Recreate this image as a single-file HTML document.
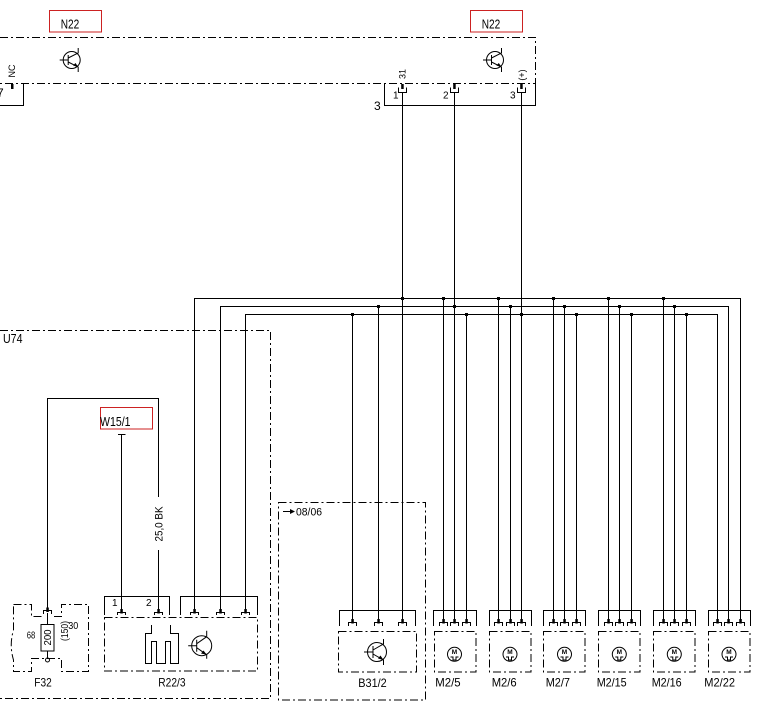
<!DOCTYPE html>
<html><head><meta charset="utf-8"><style>
html,body{margin:0;padding:0;background:#fff;}
svg{display:block;}
text{font-family:"Liberation Sans",Arial,sans-serif;fill:#000;}
</style></head><body>
<svg width="767" height="719" viewBox="0 0 767 719" xmlns="http://www.w3.org/2000/svg">
<rect x="0" y="0" width="767" height="719" fill="#fff"/>

<!-- red label boxes -->
<g fill="none" stroke="#cc2222" stroke-width="1">
  <rect x="49.5" y="10.5" width="52" height="21.5"/>
  <rect x="470.5" y="10.5" width="52" height="21.5"/>
  <rect x="100.5" y="407.5" width="52" height="21.5"/>
</g>

<!-- dash-dot outlines -->
<g fill="none" stroke="#000" stroke-width="1" stroke-dasharray="8 3 2 3">
  <path d="M0,37.5 H535.5 V83.5 H0"/>
  <path d="M0,330.5 H270.5 V698.5 H0"/>
  <rect x="278.5" y="502.5" width="147" height="197.5"/>
  <rect x="104.5" y="617.5" width="153" height="53.5"/>
  <rect x="338.5" y="631.5" width="78" height="40.5"/>
  <rect x="434.5" y="631.5" width="41.5" height="40.5"/>
  <rect x="489.5" y="631.5" width="41.5" height="40.5"/>
  <rect x="543.5" y="631.5" width="41.5" height="40.5"/>
  <rect x="598.5" y="631.5" width="41.5" height="40.5"/>
  <rect x="653.5" y="631.5" width="41.5" height="40.5"/>
  <rect x="708.5" y="631.5" width="41.5" height="40.5"/>
  <!-- F32 outline -->
  <path d="M13.5,604.5 H31.5 V616.5 H41.5 M54,616.5 H61.5 V604.5 H88.5 V671.5 H61.5 V658.5 H31.5 V671.5 H13.5 V660 Q9,645 13.5,630 V604.5"/>
</g>

<!-- solid wires -->
<g fill="none" stroke="#000" stroke-width="1">
  <!-- top housings -->
  <path d="M23.5,84 V105.5 H0"/>
  <path d="M384.5,84 V105.5 H535.5 V84"/>
  <!-- N22 verticals -->
  <path d="M402.5,92 V622"/>
  <path d="M454.5,92 V622"/>
  <path d="M521.5,92 V622"/>
  <!-- bus lines -->
  <path d="M194.5,612 V298.5 H740.5 V622"/>
  <path d="M220.5,612 V306.5 H728.5 V622"/>
  <path d="M245.5,612 V314.5 H717.5 V622"/>
  <!-- L1 drops -->
  <path d="M443.5,298.5 V622 M498.5,298.5 V622 M553.5,298.5 V622 M608.5,298.5 V622 M663.5,298.5 V622"/>
  <!-- L2 drops -->
  <path d="M378.5,306.5 V622 M510.5,306.5 V622 M564.5,306.5 V622 M619.5,306.5 V622 M674.5,306.5 V622"/>
  <!-- L3 drops -->
  <path d="M352.5,314.5 V622 M466.5,314.5 V622 M576.5,314.5 V622 M631.5,314.5 V622 M686.5,314.5 V622"/>

  <!-- housings bottom -->
  <path d="M433.5,626 V610.5 H476.5 V626"/>
  <path d="M489.5,626 V610.5 H531.5 V626"/>
  <path d="M543.5,626 V610.5 H585.5 V626"/>
  <path d="M598.5,626 V610.5 H640.5 V626"/>
  <path d="M653.5,626 V610.5 H695.5 V626"/>
  <path d="M708.5,626 V610.5 H750.5 V626"/>
  <path d="M339.5,626 V610.5 H415.5 V626"/>
  <path d="M104.5,615 V596.5 H169.5 V615"/>
  <path d="M180.5,615 V596.5 H257.5 V615"/>

  <!-- F32 / W15/1 wiring -->
  <path d="M47.5,610 V398.5 H158.5 V497"/>
  <path d="M158.5,550 V612"/>
  <path d="M121.5,434.5 V612"/>
  <path d="M118,434.5 H125.5"/>
  <rect x="41" y="624.5" width="13" height="26.5"/>
  <path d="M47.5,613 V624.5 M47.5,651 V658"/>
  <circle cx="47.5" cy="660" r="2"/>

  <!-- heater meander -->
  <path d="M151.5,625 V633.5 H145.5 V663.5 H151.5 V641.5 H156.5 V663.5 H165.5 V641.5 H170.5 V663.5 H178.5 V633.5 H170.5 V625"/>

  <!-- 08/06 arrow -->
  <path d="M283,511.5 H292"/>
</g>
<path d="M295,511.5 L290,509 L290,514 Z" fill="#000"/>

<!-- top pins (cup) -->
<g fill="none" stroke="#000" stroke-width="1">
  <path d="M398.5,87.5 V92.5 H406.5 V87.5"/>
  <path d="M450.5,87.5 V92.5 H458.5 V87.5"/>
  <path d="M517.5,87.5 V92.5 H525.5 V87.5"/>
</g>
<g fill="#000">
  <rect x="11" y="84" width="2.5" height="5"/>
  <rect x="401.2" y="84" width="2.5" height="5"/>
  <rect x="453.2" y="84" width="2.5" height="5"/>
  <rect x="520.2" y="84" width="2.5" height="5"/>
</g>

<!-- bottom pins -->
<g fill="none" stroke="#000" stroke-width="1">
  <path d="M439.5,626 V622.5 H447.5 V626 M450.5,626 V622.5 H458.5 V626 M462.5,626 V622.5 H470.5 V626"/>
  <path d="M494.5,626 V622.5 H502.5 V626 M506.5,626 V622.5 H514.5 V626 M517.5,626 V622.5 H525.5 V626"/>
  <path d="M549.5,626 V622.5 H557.5 V626 M560.5,626 V622.5 H568.5 V626 M572.5,626 V622.5 H580.5 V626"/>
  <path d="M604.5,626 V622.5 H612.5 V626 M615.5,626 V622.5 H623.5 V626 M627.5,626 V622.5 H635.5 V626"/>
  <path d="M659.5,626 V622.5 H667.5 V626 M670.5,626 V622.5 H678.5 V626 M682.5,626 V622.5 H690.5 V626"/>
  <path d="M713.5,626 V622.5 H721.5 V626 M724.5,626 V622.5 H732.5 V626 M736.5,626 V622.5 H744.5 V626"/>
  <path d="M348.5,626 V622.5 H356.5 V626 M374.5,626 V622.5 H382.5 V626 M398.5,626 V622.5 H406.5 V626"/>
  <path d="M117.5,615 V612.5 H125.5 V615 M154.5,615 V612.5 H162.5 V615 M190.5,615 V612.5 H198.5 V615 M216.5,615 V612.5 H224.5 V615 M241.5,615 V612.5 H249.5 V615"/>
  <path d="M43.5,614 V610.5 H51.5 V614"/>
</g>
<g fill="#000">
  <rect x="442.3" y="619" width="2.5" height="4.5"/><rect x="453.3" y="619" width="2.5" height="4.5"/><rect x="465.3" y="619" width="2.5" height="4.5"/>
  <rect x="497.3" y="619" width="2.5" height="4.5"/><rect x="509.3" y="619" width="2.5" height="4.5"/><rect x="520.3" y="619" width="2.5" height="4.5"/>
  <rect x="552.3" y="619" width="2.5" height="4.5"/><rect x="563.3" y="619" width="2.5" height="4.5"/><rect x="575.3" y="619" width="2.5" height="4.5"/>
  <rect x="607.3" y="619" width="2.5" height="4.5"/><rect x="618.3" y="619" width="2.5" height="4.5"/><rect x="630.3" y="619" width="2.5" height="4.5"/>
  <rect x="662.3" y="619" width="2.5" height="4.5"/><rect x="673.3" y="619" width="2.5" height="4.5"/><rect x="685.3" y="619" width="2.5" height="4.5"/>
  <rect x="716.3" y="619" width="2.5" height="4.5"/><rect x="727.3" y="619" width="2.5" height="4.5"/><rect x="739.3" y="619" width="2.5" height="4.5"/>
  <rect x="351.3" y="619" width="2.5" height="4.5"/><rect x="377.3" y="619" width="2.5" height="4.5"/><rect x="401.3" y="619" width="2.5" height="4.5"/>
  <rect x="120.3" y="609" width="2.5" height="4.5"/><rect x="157.3" y="609" width="2.5" height="4.5"/><rect x="193.3" y="609" width="2.5" height="4.5"/><rect x="219.3" y="609" width="2.5" height="4.5"/><rect x="244.3" y="609" width="2.5" height="4.5"/>
  <rect x="46.3" y="607.5" width="2.5" height="4.5"/>
</g>

<!-- junction dots -->
<g fill="#000">
  <rect x="401" y="297" width="3" height="3"/>
  <rect x="442" y="297" width="3" height="3"/>
  <rect x="497" y="297" width="3" height="3"/>
  <rect x="552" y="297" width="3" height="3"/>
  <rect x="607" y="297" width="3" height="3"/>
  <rect x="662" y="297" width="3" height="3"/>
  <rect x="377" y="305" width="3" height="3"/>
  <rect x="453" y="305" width="3" height="3"/>
  <rect x="509" y="305" width="3" height="3"/>
  <rect x="563" y="305" width="3" height="3"/>
  <rect x="618" y="305" width="3" height="3"/>
  <rect x="673" y="305" width="3" height="3"/>
  <rect x="351" y="313" width="3" height="3"/>
  <rect x="465" y="313" width="3" height="3"/>
  <rect x="520" y="313" width="3" height="3"/>
  <rect x="575" y="313" width="3" height="3"/>
  <rect x="630" y="313" width="3" height="3"/>
  <rect x="685" y="313" width="3" height="3"/>
</g>

<!-- transistors -->
<g fill="none" stroke="#000" stroke-width="1">
  <g transform="translate(71.7,60)">
    <circle r="8.5"/>
    <path d="M-12,0 H-3.5 M-3.5,-5 V5 M-3.5,-2 L6.5,-7 V-12 M-3.5,2 L6.5,7 V12"/>
  </g>
  <g transform="translate(495,60)">
    <circle r="8.5"/>
    <path d="M-12,0 H-3.5 M-3.5,-5 V5 M-3.5,-2 L6.5,-7 V-12 M-3.5,2 L6.5,7 V12"/>
  </g>
  <g transform="translate(377,652)">
    <circle r="9.5"/>
    <path d="M-13,0 H-4 M-4,-6 V6 M-4,-2 L6.5,-8 V-13 M-4,2 L6.5,8 V13"/>
  </g>
  <g transform="translate(201.7,645.7)">
    <circle r="10"/>
    <path d="M-13.5,0 H-5 M-5,-6 V6 M-5,-2 L5,-9 V-15 M-5,2 L5,9 V13"/>
  </g>
</g>
<g fill="#000">
  <path d="M78.2,67 L73,65.5 L75.5,63 Z"/>
  <path d="M501.5,67 L496.3,65.5 L498.8,63 Z"/>
  <path d="M383.5,660 L378,658.5 L380.5,655.5 Z"/>
  <path d="M206.7,654.7 L201,653.5 L203.5,650.5 Z"/>
</g>

<!-- motors -->
<g fill="none" stroke="#000" stroke-width="1">
  <circle cx="454.5" cy="654.3" r="7"/>
  <circle cx="510" cy="654.3" r="7"/>
  <circle cx="564.5" cy="654.3" r="7"/>
  <circle cx="619.3" cy="654.3" r="7"/>
  <circle cx="674.3" cy="654.3" r="7"/>
  <circle cx="729" cy="654.3" r="7"/>
  <path d="M450.5,657 H453 V660 H456 V657 H458.5"/>
  <path d="M506,657 H508.5 V660 H511.5 V657 H514"/>
  <path d="M560.5,657 H563 V660 H566 V657 H568.5"/>
  <path d="M615.3,657 H617.8 V660 H620.8 V657 H623.3"/>
  <path d="M670.3,657 H672.8 V660 H675.8 V657 H678.3"/>
  <path d="M725,657 H727.5 V660 H730.5 V657 H733"/>
</g>
<g font-size="6.5" font-weight="bold" text-anchor="middle">
  <text x="454.5" y="654">M</text>
  <text x="510" y="654">M</text>
  <text x="564.5" y="654">M</text>
  <text x="619.3" y="654">M</text>
  <text x="674.3" y="654">M</text>
  <text x="729" y="654">M</text>
</g>

<!-- texts -->
<text x="60.7" y="28.3" font-size="13" textLength="18.5" lengthAdjust="spacingAndGlyphs">N22</text>
<text x="481.7" y="28.3" font-size="13" textLength="18.5" lengthAdjust="spacingAndGlyphs">N22</text>
<text transform="translate(12,71) rotate(-90)" font-size="9" text-anchor="middle" dy="3">NC</text>
<text x="-3" y="97" font-size="12">7</text>
<text x="374" y="110" font-size="12">3</text>
<text x="393" y="98.3" font-size="10">1</text>
<text x="443" y="98.3" font-size="10">2</text>
<text x="510" y="98.3" font-size="10">3</text>
<text transform="translate(402.5,74) rotate(-90)" font-size="9" text-anchor="middle" dy="3">31</text>
<text transform="translate(522,75) rotate(-90)" font-size="9" text-anchor="middle" dy="3">(+)</text>
<text x="3" y="343" font-size="13" textLength="19.5" lengthAdjust="spacingAndGlyphs">U74</text>
<text x="100" y="426" font-size="13" textLength="30.5" lengthAdjust="spacingAndGlyphs">W15/1</text>
<text transform="translate(158.5,524) rotate(-90)" font-size="11" text-anchor="middle" dy="4" textLength="35" lengthAdjust="spacingAndGlyphs">25,0 BK</text>
<text x="296" y="515.5" font-size="11" textLength="26" lengthAdjust="spacingAndGlyphs">08/06</text>
<text x="112" y="606" font-size="10">1</text>
<text x="146" y="606" font-size="10">2</text>
<text x="26.7" y="638.5" font-size="10.5" textLength="8.5" lengthAdjust="spacingAndGlyphs">68</text>
<text transform="translate(47.7,637.5) rotate(-90)" font-size="10" text-anchor="middle" dy="3.5" textLength="16" lengthAdjust="spacingAndGlyphs">200</text>
<text transform="translate(64.5,631) rotate(-90)" font-size="10" text-anchor="middle" dy="3.5" textLength="20" lengthAdjust="spacingAndGlyphs">(150)</text>
<text x="68.3" y="629" font-size="10.5" textLength="10" lengthAdjust="spacingAndGlyphs">30</text>
<g font-size="12">
  <text x="34.3" y="686.7" textLength="17.4" lengthAdjust="spacingAndGlyphs">F32</text>
  <text x="158.3" y="686.7" textLength="27.3" lengthAdjust="spacingAndGlyphs">R22/3</text>
  <text x="358.3" y="687" textLength="28.4" lengthAdjust="spacingAndGlyphs">B31/2</text>
  <text x="435.3" y="686.7" textLength="25.3" lengthAdjust="spacingAndGlyphs">M2/5</text>
  <text x="491.7" y="686.7" textLength="25" lengthAdjust="spacingAndGlyphs">M2/6</text>
  <text x="545.7" y="686.7" textLength="24.3" lengthAdjust="spacingAndGlyphs">M2/7</text>
  <text x="596.7" y="686.7" textLength="30" lengthAdjust="spacingAndGlyphs">M2/15</text>
  <text x="651.7" y="686.7" textLength="30" lengthAdjust="spacingAndGlyphs">M2/16</text>
  <text x="704.3" y="686.7" textLength="30.7" lengthAdjust="spacingAndGlyphs">M2/22</text>
</g>
</svg>
</body></html>
